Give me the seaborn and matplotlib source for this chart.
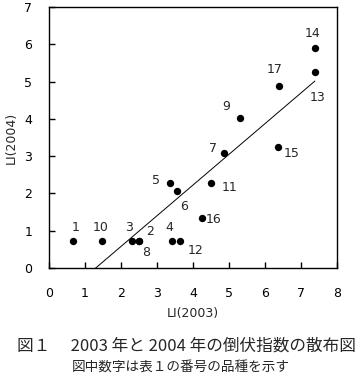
import numpy as np
import pandas as pd
import matplotlib
matplotlib.use("Agg")
import matplotlib.pyplot as plt
import seaborn as sns

# 品種番号と倒伏指数
variety = ["1", "2", "3", "4", "5", "6", "7", "8", "9", "10",
           "11", "12", "13", "14", "15", "16", "17"]
li_2003 = [0.67, 2.5, 2.31, 3.42, 3.36, 3.56, 4.86, 2.5, 5.32, 1.48,
           4.51, 3.64, 7.39, 7.39, 6.36, 4.25, 6.38]
li_2004 = [0.72, 0.72, 0.72, 0.72, 2.27, 2.06, 3.09, 0.72, 4.02, 0.72,
           2.27, 0.72, 5.25, 5.91, 3.25, 1.33, 4.88]

# label offsets in points (dx, dy)
offsets = {"1": (2, 10), "2": (8, 7), "3": (-2, 10), "4": (-2, 10),
           "5": (-10, 2), "6": (5, -11), "7": (-8, 3), "8": (5, -8),
           "9": (-10, 8), "10": (-1, 10), "11": (13, -3), "12": (11, -7),
           "13": (2, -18), "14": (-2, 10), "15": (10, -5), "16": (8, -1),
           "17": (-3, 12)}

df = pd.DataFrame({"no": variety, "x": li_2003, "y": li_2004})

sns.set_style("ticks")
plt.rcParams["font.family"] = ["DejaVu Sans"]

fig = plt.figure(figsize=(3.61, 3.80), dpi=100)
ax = fig.add_axes([0.136, 0.2947, 0.797, 0.687])

sns.regplot(data=df, x="x", y="y", ci=None, scatter=False, truncate=True,
            line_kws={"color": "black", "lw": 0.7}, ax=ax)
sns.scatterplot(data=df, x="x", y="y", color="black", s=28, edgecolor="black",
                linewidth=0, ax=ax)

for _, r in df.iterrows():
    dx, dy = offsets[r["no"]]
    ax.annotate(r["no"], (r["x"], r["y"]), xytext=(dx, dy),
                textcoords="offset points", ha="center", va="center", fontsize=9)

ax.set_xlim(0, 8)
ax.set_ylim(0, 7)
ax.set_xticks(range(0, 9))
ax.set_yticks(range(0, 8))
ax.tick_params(direction="in", length=4, width=1, labelsize=9, colors="black")
ax.tick_params(axis="x", pad=14)
ax.tick_params(axis="y", pad=12)
for side in ["top", "right", "left", "bottom"]:
    ax.spines[side].set_visible(True)
    ax.spines[side].set_linewidth(1)
    ax.spines[side].set_color("black")
ax.set_xlabel("LI(2003)", fontsize=9, labelpad=5)
ax.set_ylabel("LI(2004)", fontsize=9, labelpad=5)

fig.text(0.517, 0.09, "図１　 2003 年と 2004 年の倒伏指数の散布図", ha="center",
         va="center", fontsize=12, family=["Noto Sans CJK JP", "DejaVu Sans"])
fig.text(0.501, 0.036, "図中数字は表１の番号の品種を示す", ha="center",
         va="center", fontsize=9.8, family=["Noto Sans CJK JP", "DejaVu Sans"])

fig.savefig("out.png", dpi=100)
